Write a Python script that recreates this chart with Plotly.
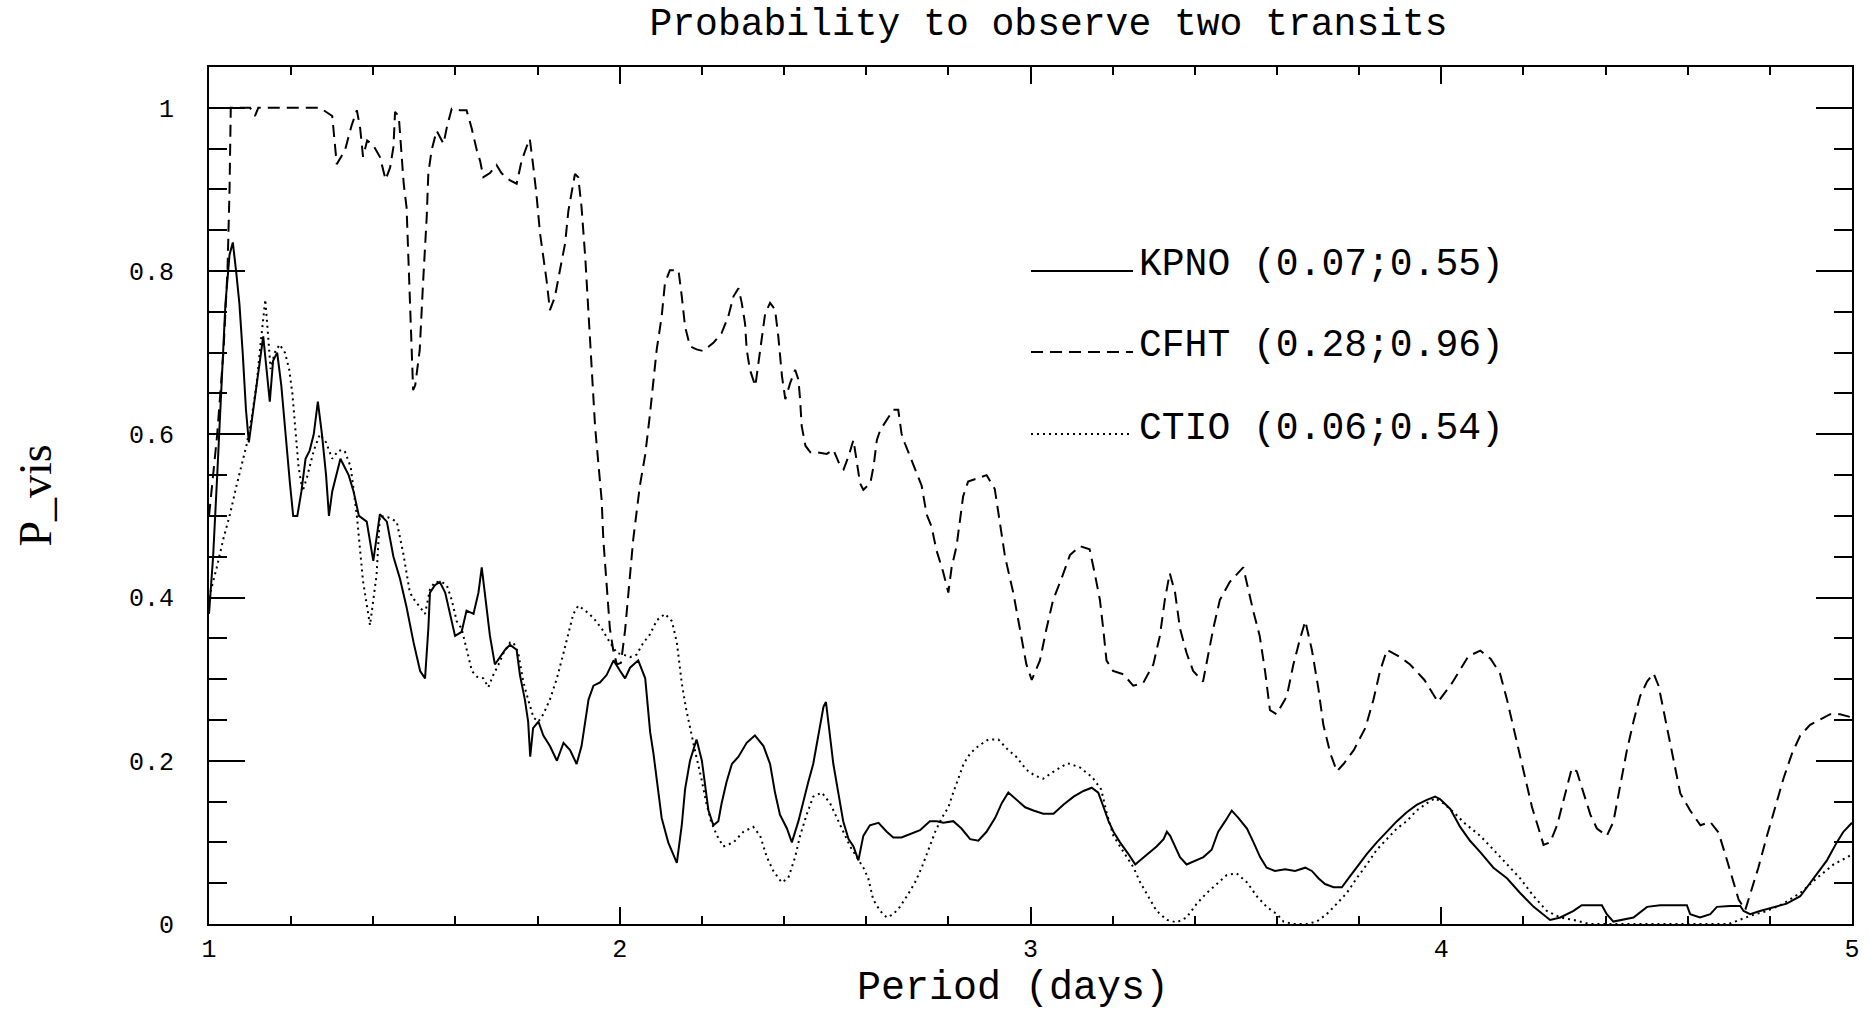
import plotly.graph_objects as go

# ---------------- data ----------------
cfht_period = [1.000, 1.020, 1.035, 1.045, 1.050, 1.053, 1.100, 1.112, 1.120, 1.230, 1.270, 1.300, 1.305,
               1.311, 1.331, 1.347, 1.360, 1.368, 1.375, 1.385, 1.400, 1.416, 1.430, 1.441, 1.449, 1.453,
               1.462, 1.468, 1.474, 1.481, 1.487, 1.492, 1.497, 1.502, 1.513, 1.521, 1.530, 1.534, 1.542,
               1.554, 1.571, 1.579, 1.591, 1.611, 1.627, 1.639, 1.652, 1.660, 1.668, 1.684, 1.700, 1.712,
               1.733, 1.749, 1.761, 1.773, 1.781, 1.789, 1.797, 1.806, 1.814, 1.822, 1.830, 1.842, 1.854,
               1.867, 1.875, 1.883, 1.891, 1.899, 1.907, 1.916, 1.924, 1.932, 1.940, 1.956, 1.960, 1.976,
               1.984, 1.993, 2.003, 2.013, 2.021, 2.033, 2.049, 2.062, 2.073, 2.082, 2.090, 2.102, 2.110,
               2.122, 2.143, 2.151, 2.159, 2.171, 2.187, 2.203, 2.228, 2.248, 2.264, 2.277, 2.289, 2.297,
               2.305, 2.309, 2.317, 2.330, 2.338, 2.346, 2.354, 2.366, 2.378, 2.386, 2.391, 2.395, 2.403,
               2.415, 2.427, 2.435, 2.439, 2.443, 2.452, 2.464, 2.480, 2.504, 2.520, 2.537, 2.545, 2.557,
               2.569, 2.577, 2.585, 2.593, 2.610, 2.618, 2.626, 2.634, 2.650, 2.666, 2.678, 2.686, 2.694,
               2.710, 2.722, 2.735, 2.747, 2.759, 2.771, 2.787, 2.800, 2.808, 2.820, 2.828, 2.836, 2.848,
               2.869, 2.893, 2.913, 2.925, 2.938, 2.958, 2.978, 2.990, 3.003, 3.023, 3.039, 3.055, 3.076,
               3.096, 3.120, 3.144, 3.157, 3.169, 3.177, 3.185, 3.201, 3.226, 3.250, 3.274, 3.299, 3.315,
               3.327, 3.339, 3.352, 3.364, 3.380, 3.396, 3.420, 3.432, 3.445, 3.461, 3.485, 3.518, 3.530,
               3.542, 3.558, 3.571, 3.583, 3.599, 3.624, 3.640, 3.656, 3.669, 3.685, 3.701, 3.713, 3.730,
               3.746, 3.762, 3.787, 3.815, 3.835, 3.851, 3.868, 3.900, 3.924, 3.959, 3.992, 4.026, 4.066,
               4.095, 4.120, 4.143, 4.160, 4.176, 4.192, 4.205, 4.221, 4.237, 4.249, 4.265, 4.282, 4.302,
               4.318, 4.330, 4.347, 4.363, 4.379, 4.403, 4.419, 4.436, 4.452, 4.468, 4.484, 4.501, 4.517,
               4.529, 4.541, 4.553, 4.566, 4.582, 4.606, 4.631, 4.655, 4.675, 4.691, 4.708, 4.724, 4.740,
               4.756, 4.772, 4.793, 4.813, 4.833, 4.854, 4.874, 4.898, 4.923, 4.947, 4.971, 5.000]
cfht_pvis = [0.50, 0.60, 0.70, 0.80, 0.90, 1.00, 1.00, 0.99, 1.00, 1.00, 1.00, 0.99, 0.965,
             0.931, 0.948, 0.978, 0.997, 0.975, 0.940, 0.960, 0.954, 0.940, 0.912, 0.927, 0.952, 0.995,
             0.990, 0.950, 0.907, 0.878, 0.800, 0.720, 0.654, 0.660, 0.703, 0.784, 0.866, 0.920, 0.948,
             0.972, 0.956, 0.976, 0.999, 0.997, 0.997, 0.976, 0.948, 0.935, 0.915, 0.920, 0.930, 0.920,
             0.911, 0.907, 0.935, 0.952, 0.962, 0.930, 0.895, 0.846, 0.817, 0.788, 0.752, 0.768, 0.800,
             0.834, 0.874, 0.899, 0.919, 0.915, 0.878, 0.817, 0.752, 0.682, 0.609, 0.519, 0.471, 0.362,
             0.336, 0.318, 0.320, 0.360, 0.406, 0.472, 0.537, 0.575, 0.622, 0.663, 0.704, 0.744, 0.785,
             0.801, 0.801, 0.769, 0.732, 0.708, 0.704, 0.702, 0.712, 0.724, 0.744, 0.769, 0.779, 0.761,
             0.736, 0.704, 0.679, 0.659, 0.691, 0.720, 0.748, 0.761, 0.753, 0.720, 0.696, 0.671, 0.643,
             0.663, 0.679, 0.667, 0.643, 0.610, 0.586, 0.578, 0.578, 0.576, 0.581, 0.561, 0.557, 0.573,
             0.593, 0.569, 0.540, 0.532, 0.540, 0.561, 0.593, 0.605, 0.617, 0.630, 0.630, 0.601, 0.589,
             0.569, 0.553, 0.537, 0.502, 0.487, 0.458, 0.432, 0.406, 0.437, 0.463, 0.493, 0.524, 0.542,
             0.546, 0.550, 0.533, 0.493, 0.450, 0.406, 0.353, 0.318, 0.299, 0.323, 0.362, 0.397, 0.424,
             0.452, 0.463, 0.459, 0.428, 0.397, 0.362, 0.323, 0.310, 0.306, 0.292, 0.295, 0.318, 0.353,
             0.397, 0.430, 0.406, 0.362, 0.332, 0.310, 0.297, 0.327, 0.362, 0.397, 0.419, 0.437, 0.410,
             0.384, 0.353, 0.310, 0.262, 0.257, 0.279, 0.318, 0.349, 0.371, 0.336, 0.288, 0.244, 0.209,
             0.187, 0.196, 0.213, 0.240, 0.275, 0.310, 0.336, 0.327, 0.318, 0.299, 0.272, 0.295, 0.328,
             0.335, 0.325, 0.307, 0.275, 0.240, 0.209, 0.178, 0.143, 0.117, 0.097, 0.100, 0.121, 0.160,
             0.191, 0.187, 0.160, 0.134, 0.117, 0.108, 0.125, 0.169, 0.213, 0.248, 0.279, 0.297, 0.307,
             0.292, 0.262, 0.231, 0.196, 0.160, 0.139, 0.121, 0.125, 0.112, 0.086, 0.056, 0.030, 0.017,
             0.043, 0.069, 0.108, 0.143, 0.178, 0.209, 0.231, 0.244, 0.251, 0.257, 0.257, 0.253]

kpno_period = [1.000, 1.010, 1.020, 1.030, 1.040, 1.050, 1.058, 1.066, 1.074, 1.082, 1.090, 1.097, 1.105,
               1.115, 1.125, 1.132, 1.140, 1.148, 1.156, 1.166, 1.176, 1.186, 1.197, 1.205, 1.215, 1.225,
               1.235, 1.245, 1.255, 1.265, 1.275, 1.285, 1.292, 1.300, 1.310, 1.320, 1.330, 1.340, 1.352,
               1.365, 1.384, 1.400, 1.416, 1.433, 1.449, 1.465, 1.481, 1.498, 1.514, 1.526, 1.534, 1.538,
               1.550, 1.562, 1.575, 1.587, 1.599, 1.615, 1.627, 1.644, 1.656, 1.664, 1.672, 1.684, 1.696,
               1.709, 1.721, 1.733, 1.749, 1.757, 1.769, 1.777, 1.782, 1.789, 1.802, 1.814, 1.830, 1.847,
               1.863, 1.879, 1.895, 1.907, 1.916, 1.924, 1.936, 1.952, 1.968, 1.985, 2.001, 2.013, 2.025,
               2.045, 2.062, 2.074, 2.082, 2.094, 2.102, 2.118, 2.130, 2.139, 2.151, 2.159, 2.171, 2.187,
               2.200, 2.208, 2.216, 2.228, 2.240, 2.248, 2.260, 2.273, 2.289, 2.309, 2.329, 2.350, 2.366,
               2.378, 2.390, 2.407, 2.419, 2.435, 2.447, 2.459, 2.471, 2.484, 2.496, 2.502, 2.512, 2.520,
               2.532, 2.544, 2.557, 2.569, 2.581, 2.593, 2.609, 2.630, 2.650, 2.666, 2.686, 2.707, 2.731,
               2.755, 2.772, 2.788, 2.812, 2.832, 2.853, 2.873, 2.893, 2.914, 2.930, 2.946, 2.966, 2.987,
               3.007, 3.031, 3.056, 3.080, 3.105, 3.129, 3.149, 3.165, 3.178, 3.190, 3.202, 3.218, 3.238,
               3.255, 3.267, 3.287, 3.307, 3.324, 3.332, 3.340, 3.352, 3.364, 3.380, 3.401, 3.421, 3.441,
               3.457, 3.474, 3.490, 3.506, 3.527, 3.543, 3.559, 3.575, 3.595, 3.620, 3.644, 3.669, 3.685,
               3.701, 3.717, 3.738, 3.758, 3.774, 3.794, 3.819, 3.843, 3.867, 3.892, 3.916, 3.940, 3.965,
               3.985, 3.997, 4.022, 4.046, 4.070, 4.095, 4.127, 4.160, 4.192, 4.225, 4.249, 4.265, 4.290,
               4.306, 4.322, 4.342, 4.391, 4.403, 4.419, 4.468, 4.501, 4.533, 4.598, 4.606, 4.630, 4.655,
               4.671, 4.703, 4.728, 4.736, 4.752, 4.776, 4.809, 4.841, 4.874, 4.906, 4.939, 4.963, 4.979,
               5.000]
kpno_pvis = [0.38, 0.45, 0.55, 0.66, 0.76, 0.82, 0.835, 0.80, 0.76, 0.70, 0.63, 0.59, 0.62,
             0.66, 0.70, 0.72, 0.68, 0.64, 0.69, 0.70, 0.66, 0.60, 0.54, 0.50, 0.50, 0.53,
             0.57, 0.58, 0.60, 0.64, 0.60, 0.55, 0.50, 0.53, 0.55, 0.57, 0.56, 0.55, 0.53,
             0.50, 0.493, 0.445, 0.502, 0.493, 0.450, 0.423, 0.388, 0.345, 0.310, 0.301, 0.362, 0.406,
             0.415, 0.419, 0.406, 0.380, 0.353, 0.358, 0.384, 0.380, 0.406, 0.437, 0.406, 0.353, 0.318,
             0.327, 0.336, 0.342, 0.336, 0.305, 0.275, 0.248, 0.205, 0.240, 0.248, 0.231, 0.218, 0.200,
             0.222, 0.213, 0.196, 0.218, 0.248, 0.275, 0.292, 0.296, 0.305, 0.323, 0.310, 0.301, 0.314,
             0.323, 0.301, 0.235, 0.209, 0.165, 0.130, 0.100, 0.085, 0.075, 0.121, 0.165, 0.200, 0.226,
             0.200, 0.170, 0.139, 0.121, 0.126, 0.148, 0.174, 0.196, 0.205, 0.222, 0.231, 0.218, 0.196,
             0.161, 0.134, 0.117, 0.100, 0.126, 0.152, 0.174, 0.196, 0.231, 0.266, 0.272, 0.231, 0.196,
             0.161, 0.126, 0.104, 0.095, 0.078, 0.108, 0.121, 0.124, 0.113, 0.106, 0.106, 0.110, 0.115,
             0.126, 0.126, 0.124, 0.126, 0.117, 0.104, 0.102, 0.113, 0.130, 0.148, 0.161, 0.152, 0.143,
             0.139, 0.135, 0.135, 0.146, 0.156, 0.163, 0.167, 0.161, 0.143, 0.126, 0.113, 0.100, 0.086,
             0.073, 0.078, 0.086, 0.095, 0.104, 0.113, 0.108, 0.095, 0.082, 0.073, 0.078, 0.082, 0.091,
             0.113, 0.126, 0.139, 0.130, 0.117, 0.100, 0.082, 0.069, 0.065, 0.067, 0.065, 0.069, 0.065,
             0.056, 0.049, 0.045, 0.045, 0.056, 0.069, 0.086, 0.100, 0.113, 0.126, 0.137, 0.146, 0.152,
             0.156, 0.153, 0.141, 0.119, 0.102, 0.088, 0.069, 0.056, 0.038, 0.021, 0.012, 0.005, 0.008,
             0.012, 0.016, 0.023, 0.023, 0.012, 0.003, 0.008, 0.021, 0.023, 0.023, 0.012, 0.008, 0.012,
             0.021, 0.022, 0.022, 0.016, 0.012, 0.016, 0.021, 0.025, 0.034, 0.056, 0.078, 0.100, 0.113,
             0.124]

ctio_period = [1.000, 1.019, 1.035, 1.051, 1.067, 1.084, 1.092, 1.104, 1.116, 1.124, 1.132, 1.137, 1.144,
               1.150, 1.160, 1.172, 1.185, 1.195, 1.203, 1.210, 1.218, 1.228, 1.240, 1.255, 1.270, 1.285,
               1.300, 1.315, 1.330, 1.345, 1.360, 1.375, 1.392, 1.408, 1.416, 1.437, 1.457, 1.473, 1.481,
               1.489, 1.500, 1.514, 1.526, 1.538, 1.550, 1.567, 1.579, 1.591, 1.603, 1.615, 1.627, 1.640,
               1.652, 1.668, 1.680, 1.692, 1.705, 1.717, 1.733, 1.741, 1.753, 1.765, 1.777, 1.790, 1.802,
               1.814, 1.830, 1.847, 1.863, 1.875, 1.887, 1.899, 1.916, 1.936, 1.956, 1.976, 1.993, 2.009,
               2.025, 2.041, 2.058, 2.074, 2.090, 2.110, 2.127, 2.139, 2.151, 2.161, 2.173, 2.185, 2.198,
               2.210, 2.222, 2.237, 2.252, 2.277, 2.301, 2.325, 2.342, 2.358, 2.374, 2.394, 2.410, 2.427,
               2.439, 2.455, 2.471, 2.492, 2.512, 2.528, 2.544, 2.561, 2.577, 2.593, 2.605, 2.617, 2.634,
               2.650, 2.666, 2.682, 2.699, 2.719, 2.735, 2.751, 2.768, 2.784, 2.800, 2.812, 2.824, 2.837,
               2.853, 2.873, 2.897, 2.922, 2.944, 2.965, 2.990, 3.010, 3.031, 3.060, 3.090, 3.120, 3.150,
               3.172, 3.186, 3.202, 3.218, 3.234, 3.251, 3.267, 3.287, 3.307, 3.332, 3.356, 3.380, 3.405,
               3.429, 3.454, 3.478, 3.502, 3.527, 3.551, 3.575, 3.600, 3.616, 3.640, 3.673, 3.697, 3.721,
               3.746, 3.770, 3.794, 3.819, 3.843, 3.867, 3.892, 3.916, 3.940, 3.965, 3.985, 4.005, 4.030,
               4.058, 4.095, 4.127, 4.160, 4.192, 4.225, 4.257, 4.290, 4.322, 4.360, 4.700, 4.752, 4.793,
               4.833, 4.874, 4.914, 4.955, 5.000]
ctio_pvis = [0.40, 0.437, 0.472, 0.502, 0.537, 0.572, 0.588, 0.621, 0.662, 0.703, 0.744, 0.765, 0.720,
             0.680, 0.700, 0.710, 0.700, 0.680, 0.650, 0.610, 0.560, 0.530, 0.550, 0.580, 0.600, 0.590,
             0.570, 0.580, 0.580, 0.560, 0.500, 0.420, 0.366, 0.428, 0.500, 0.498, 0.493, 0.454, 0.432,
             0.406, 0.397, 0.388, 0.380, 0.410, 0.419, 0.419, 0.415, 0.397, 0.371, 0.362, 0.336, 0.310,
             0.303, 0.301, 0.290, 0.305, 0.318, 0.332, 0.345, 0.345, 0.332, 0.297, 0.275, 0.253, 0.248,
             0.257, 0.275, 0.301, 0.332, 0.358, 0.380, 0.390, 0.384, 0.375, 0.362, 0.345, 0.332, 0.330,
             0.327, 0.330, 0.345, 0.355, 0.372, 0.380, 0.371, 0.345, 0.295, 0.265, 0.235, 0.208, 0.180,
             0.150, 0.126, 0.108, 0.095, 0.100, 0.113, 0.119, 0.108, 0.082, 0.065, 0.051, 0.056, 0.082,
             0.108, 0.134, 0.156, 0.161, 0.148, 0.130, 0.113, 0.095, 0.082, 0.069, 0.056, 0.030, 0.016,
             0.008, 0.012, 0.021, 0.034, 0.051, 0.069, 0.091, 0.113, 0.130, 0.143, 0.161, 0.178, 0.196,
             0.209, 0.218, 0.226, 0.226, 0.214, 0.205, 0.189, 0.182, 0.178, 0.188, 0.197, 0.192, 0.180,
             0.165, 0.135, 0.108, 0.095, 0.082, 0.069, 0.051, 0.034, 0.016, 0.005, 0.002, 0.008, 0.025,
             0.038, 0.049, 0.060, 0.062, 0.051, 0.034, 0.021, 0.012, 0.003, 0.000, 0.000, 0.003, 0.012,
             0.025, 0.038, 0.056, 0.073, 0.091, 0.104, 0.117, 0.126, 0.139, 0.148, 0.154, 0.148, 0.137,
             0.123, 0.108, 0.091, 0.073, 0.056, 0.034, 0.016, 0.008, 0.005, 0.000, 0.000, 0.010, 0.016,
             0.025, 0.038, 0.056, 0.073, 0.085]

series_names = ["KPNO", "CFHT", "CTIO"]
legend_labels = ["KPNO (0.07;0.55)", "CFHT (0.28;0.96)", "CTIO (0.06;0.54)"]
x_tick_values = [1, 2, 3, 4, 5]
y_tick_values = [0, 0.2, 0.4, 0.6, 0.8, 1]
y_tick_labels = ["0", "0.2", "0.4", "0.6", "0.8", "1"]
x_title = "Period (days)"
y_title = "P_vis"
chart_title = "Probability to observe two transits"

# ---------------- figure ----------------
MONO = "Liberation Mono"
dashes = {"KPNO": "solid", "CFHT": "12px,7px", "CTIO": "2px,4px"}

fig = go.Figure()
for name, xs, ys in [("KPNO", kpno_period, kpno_pvis),
                     ("CFHT", cfht_period, cfht_pvis),
                     ("CTIO", ctio_period, ctio_pvis)]:
    fig.add_trace(go.Scatter(x=xs, y=ys, mode="lines", name=name, showlegend=False,
                             line=dict(color="black", width=2, dash=dashes[name])))

# pixel helpers (plot area: x 209..1852, y 67..924)
W, H, L, B = 1869, 1013, 209, 89
PW, PH = W - L - 17, H - 67 - B
def px_x(p):
    return (p - L) / PW
def px_y(p):
    return (H - B - p) / PH

# hand-drawn style legend: sample line + label text
legend_rows = [(271, 264), (352, 346), (434, 428)]
for name, label, (line_y, text_y) in zip(series_names, legend_labels, legend_rows):
    fig.add_shape(type="line", xref="paper", yref="paper",
                  x0=px_x(1031), x1=px_x(1133), y0=px_y(line_y), y1=px_y(line_y),
                  line=dict(color="black", width=2, dash=dashes[name]))
    fig.add_annotation(xref="paper", yref="paper", x=px_x(1137), y=px_y(text_y),
                       xanchor="left", yanchor="middle", showarrow=False, text=label,
                       font=dict(family=MONO, size=38, color="black"))

# x-axis title, placed like the reference (slightly left of centre, low)
fig.add_annotation(xref="paper", yref="paper", x=px_x(1013), y=px_y(988),
                   xanchor="center", yanchor="middle", showarrow=False, text=x_title,
                   font=dict(family=MONO, size=40, color="black"))

fig.update_layout(
    width=W, height=H,
    margin=dict(l=L, r=17, t=67, b=B, autoexpand=False),
    paper_bgcolor="white", plot_bgcolor="white",
    title=dict(text=chart_title, xref="paper", x=0.511,
               xanchor="center", yref="container", y=1 - 22 / H, yanchor="middle",
               font=dict(family=MONO, size=38, color="black")),
    showlegend=False,
)
fig.update_xaxes(
    range=[1, 5], tickvals=x_tick_values, ticktext=[str(v) for v in x_tick_values],
    showgrid=False, zeroline=False,
    showline=True, linecolor="black", linewidth=2, mirror="allticks",
    ticks="inside", ticklen=17, tickwidth=2, tickcolor="black",
    minor=dict(dtick=0.2, tick0=1, ticks="inside", ticklen=8, tickwidth=2, tickcolor="black", showgrid=False),
    tickfont=dict(family=MONO, size=25, color="black"), ticklabelstandoff=1,
)
fig.update_yaxes(
    range=[0, 1.05], tickvals=y_tick_values, ticktext=y_tick_labels,
    showgrid=False, zeroline=False,
    showline=True, linecolor="black", linewidth=2, mirror="allticks",
    ticks="inside", ticklen=36, tickwidth=2, tickcolor="black",
    minor=dict(dtick=0.05, tick0=0, ticks="inside", ticklen=18, tickwidth=2, tickcolor="black", showgrid=False),
    tickfont=dict(family=MONO, size=25, color="black"), ticklabelstandoff=28,
    title=dict(text=y_title, font=dict(family="Liberation Serif", size=46, color="black"), standoff=63),
)

fig.write_html("out.html")
